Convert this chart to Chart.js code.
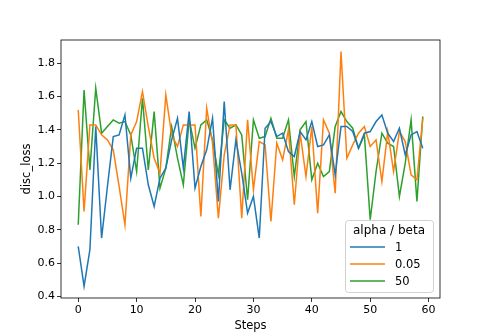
<!DOCTYPE html>
<html>
<head>
<meta charset="utf-8">
<script src="https://cdn.jsdelivr.net/npm/chart.js@4"></script>
<style>
  html, body { margin: 0; padding: 0; background: #fff; }
</style>
</head>
<body>
<canvas id="discLossChart" width="488" height="336"></canvas>
<script>
const steps = [0, 1, 2, 3, 4, 5, 6, 7, 8, 9, 10, 11, 12, 13, 14, 15, 16, 17, 18, 19,
    20, 21, 22, 23, 24, 25, 26, 27, 28, 29, 30, 31, 32, 33, 34, 35, 36, 37, 38, 39,
    40, 41, 42, 43, 44, 45, 46, 47, 48, 49, 50, 51, 52, 53, 54, 55, 56, 57, 58, 59];

// alpha / beta = 1
const loss1 = [0.70, 0.46, 0.68, 1.42, 0.75, 1.06, 1.36, 1.37, 1.49, 1.11,
    1.29, 1.29, 1.07, 0.94, 1.11, 1.17, 1.34, 1.47, 1.17, 1.51,
    1.05, 1.18, 1.28, 1.47, 0.97, 1.57, 1.04, 1.34, 1.14, 0.90,
    1.00, 0.75, 1.41, 1.45, 1.36, 1.38, 1.27, 1.24, 1.39, 1.34,
    1.45, 1.30, 1.31, 1.37, 1.13, 1.42, 1.42, 1.39, 1.29, 1.38,
    1.39, 1.45, 1.49, 1.38, 1.33, 1.41, 1.25, 1.37, 1.39, 1.29];

// alpha / beta = 0.05
const loss005 = [1.52, 0.91, 1.43, 1.43, 1.37, 1.34, 1.28, 1.06, 0.83, 1.37,
    1.45, 1.63, 1.42, 1.23, 1.14, 1.61, 1.37, 1.30, 1.43, 1.43,
    1.43, 0.88, 1.53, 1.32, 0.87, 1.25, 1.43, 1.43, 0.87, 1.46,
    1.04, 1.33, 1.31, 0.85, 1.32, 1.22, 1.40, 0.95, 1.38, 1.12,
    1.42, 0.90, 1.46, 1.38, 1.02, 1.87, 1.23, 1.31, 1.38, 1.42,
    1.30, 1.34, 1.09, 1.39, 1.15, 1.39, 1.33, 1.13, 1.10, 1.47];

// alpha / beta = 50
const loss50 = [0.83, 1.64, 1.16, 1.65, 1.38, 1.42, 1.46, 1.44, 1.45, 1.37,
    1.15, 1.59, 1.16, 1.51, 1.05, 1.17, 1.42, 1.23, 1.07, 1.46,
    1.29, 1.43, 1.46, 1.34, 1.13, 1.46, 1.41, 1.43, 1.37, 0.98,
    1.46, 1.35, 1.36, 1.47, 1.35, 1.35, 1.46, 1.12, 1.40, 1.45,
    1.10, 1.20, 1.12, 1.15, 1.42, 1.51, 1.45, 1.41, 1.29, 1.37,
    0.86, 1.15, 1.38, 1.32, 1.30, 1.00, 1.20, 1.46, 0.97, 1.48];

const seriesLabels = ['1', '0.05', '50'];
const xTicks = [0, 10, 20, 30, 40, 50, 60];
const yTicks = [0.4, 0.6, 0.8, 1.0, 1.2, 1.4, 1.6, 1.8];

const FONT = 'DejaVu Sans';

function toPoints(values) {
    return values.map((v, i) => ({ x: steps[i], y: v }));
}

// frame around the plot area (matplotlib spines)
const spinesPlugin = {
    id: 'spines',
    afterDatasetsDraw(chart) {
        const a = chart.chartArea;
        const c = chart.ctx;
        c.save();
        c.strokeStyle = '#000';
        c.lineWidth = 0.8;
        c.strokeRect(a.left, a.top, a.right - a.left, a.bottom - a.top);
        c.restore();
    }
};

// legend box in lower right corner, with a title
const boxLegendPlugin = {
    id: 'boxLegend',
    afterDraw(chart) {
        const a = chart.chartArea;
        const c = chart.ctx;
        const w = 88, h = 72;
        const x = a.right - 7 - w;
        const y = a.bottom - 6 - h;
        c.save();
        c.fillStyle = 'rgba(255,255,255,0.8)';
        c.strokeStyle = 'rgba(204,204,204,0.9)';
        c.lineWidth = 1;
        c.beginPath();
        c.roundRect(x + 0.5, y + 0.5, w, h, 3);
        c.fill();
        c.stroke();

        c.fillStyle = '#000';
        c.font = '12px "' + FONT + '"';
        c.textAlign = 'center';
        c.textBaseline = 'middle';
        c.fillText('alpha / beta', x + w / 2, y + 11);

        c.font = '11.5px "' + FONT + '"';
        c.textAlign = 'left';
        chart.data.datasets.forEach((ds, i) => {
            const ly = y + 27 + i * 17;
            c.strokeStyle = ds.borderColor;
            c.lineWidth = 1.5;
            c.beginPath();
            c.moveTo(x + 5, ly);
            c.lineTo(x + 40, ly);
            c.stroke();
            c.fillStyle = '#000';
            c.fillText(ds.label, x + 50, ly + 1);
        });
        c.restore();
    }
};

const ctx = document.getElementById('discLossChart').getContext('2d');

new Chart(ctx, {
    type: 'line',
    data: {
        datasets: [
            {
                label: seriesLabels[0],
                data: toPoints(loss1),
                borderColor: '#1f77b4',
                backgroundColor: '#1f77b4'
            },
            {
                label: seriesLabels[1],
                data: toPoints(loss005),
                borderColor: '#ff7f0e',
                backgroundColor: '#ff7f0e'
            },
            {
                label: seriesLabels[2],
                data: toPoints(loss50),
                borderColor: '#2ca02c',
                backgroundColor: '#2ca02c'
            }
        ]
    },
    options: {
        responsive: false,
        animation: false,
        layout: {
            padding: { top: 40, right: 48, left: 0, bottom: 0 }
        },
        elements: {
            point: { radius: 0 },
            line: { borderWidth: 1.5, tension: 0, fill: false }
        },
        plugins: {
            legend: { display: false },
            tooltip: { enabled: false }
        },
        scales: {
            x: {
                type: 'linear',
                min: -2.95,
                max: 61.95,
                afterBuildTicks: s => { s.ticks = xTicks.map(v => ({ value: v })); },
                afterFit: s => { s.height = 38; },
                ticks: {
                    color: '#000',
                    padding: 2,
                    maxRotation: 0,
                    font: { family: FONT, size: 11 },
                    callback: v => String(v)
                },
                grid: {
                    drawOnChartArea: false,
                    drawTicks: true,
                    tickLength: 4,
                    tickWidth: 0.8,
                    tickColor: '#000'
                },
                border: { display: false },
                title: {
                    display: true,
                    text: 'Steps',
                    color: '#000',
                    font: { family: FONT, size: 11.5 },
                    padding: { top: 0, bottom: 3 }
                }
            },
            y: {
                min: 0.39,
                max: 1.94,
                afterBuildTicks: s => { s.ticks = yTicks.map(v => ({ value: v })); },
                afterFit: s => { s.width = 61; },
                ticks: {
                    color: '#000',
                    padding: 2,
                    font: { family: FONT, size: 11 },
                    callback: v => v.toFixed(1)
                },
                grid: {
                    drawOnChartArea: false,
                    drawTicks: true,
                    tickLength: 4,
                    tickWidth: 0.8,
                    tickColor: '#000'
                },
                border: { display: false },
                title: {
                    display: true,
                    text: 'disc_loss',
                    color: '#000',
                    font: { family: FONT, size: 11.5 },
                    padding: { top: 20, bottom: 0 }
                }
            }
        }
    },
    plugins: [spinesPlugin, boxLegendPlugin]
});
</script>
</body>
</html>
